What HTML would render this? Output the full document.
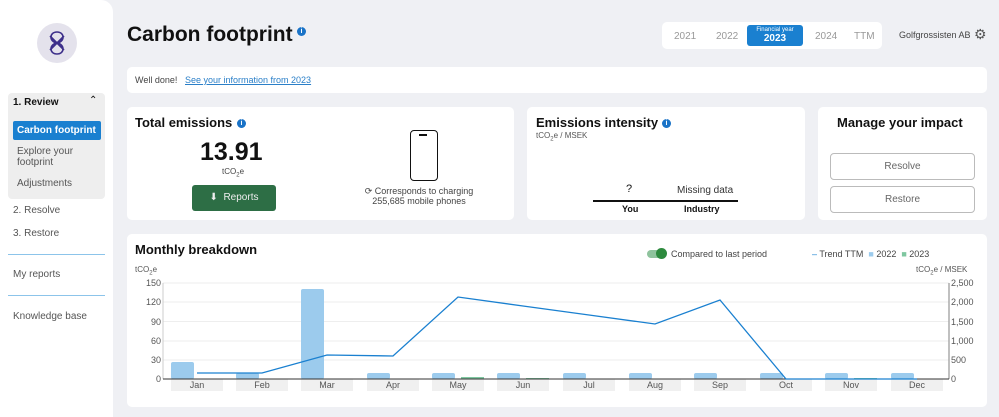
<!DOCTYPE html><html><head><style>
body{margin:0;width:999px;height:417px;background:#eff0f4;font-family:"Liberation Sans",sans-serif;position:relative;overflow:hidden;color:#111}
.a{position:absolute}
.card{position:absolute;background:#fff;border-radius:5px}
.s{font-size:10px;color:#555}
.i{display:inline-block;width:9px;height:9px;border-radius:50%;background:#1a73c7;color:#fff;font-size:7px;text-align:center;line-height:9px;font-weight:bold;vertical-align:top}
.btn{position:absolute;border:1px solid #bbb;border-radius:4px;font-size:10px;color:#666;text-align:center;line-height:25px;background:#fff}
</style></head><body>
<div class="a" style="left:0;top:0;width:113px;height:417px;background:#fff;border-top-right-radius:12px"></div>
<div class="a" style="left:37px;top:23px;width:40px;height:40px;border-radius:50%;background:#e4e2ec"></div>
<svg class="a" style="left:45px;top:30px" width="24" height="26"><path d="M12 2 C4 2 4 12 12 13 C4 14 4 24 12 24 M12 2 C20 2 20 12 12 13 C20 14 20 24 12 24 M5 6 L12 13 L19 6 M5 20 L12 13 L19 20" fill="none" stroke="#3d2f8a" stroke-width="1.6"/></svg>
<div class="a" style="left:8px;top:93px;width:97px;height:106px;background:#eee;border-radius:4px"></div>
<div class="a" style="left:13px;top:97px;font-size:10px;font-weight:bold">1. Review</div>
<div class="a" style="left:89px;top:95px;font-size:10px">⌃</div>
<div class="a" style="left:13px;top:121px;width:88px;height:19px;background:#1a80d0;border-radius:2px;color:#fff;font-size:10px;font-weight:bold;line-height:19px;padding-left:4px;box-sizing:border-box">Carbon footprint</div>
<div class="a s" style="left:17px;top:146px;line-height:11px">Explore your<br>footprint</div>
<div class="a s" style="left:17px;top:178px">Adjustments</div>
<div class="a s" style="left:13px;top:205px">2. Resolve</div>
<div class="a s" style="left:13px;top:228px">3. Restore</div>
<div class="a" style="left:8px;top:254px;width:97px;height:1px;background:#8cc4ea"></div>
<div class="a s" style="left:13px;top:269px">My reports</div>
<div class="a" style="left:8px;top:295px;width:97px;height:1px;background:#8cc4ea"></div>
<div class="a s" style="left:13px;top:311px">Knowledge base</div>

<div class="a" style="left:127px;top:23px;font-size:21px;font-weight:bold">Carbon footprint</div>
<div class="a i" style="left:297px;top:27px">i</div>
<div class="card" style="left:662px;top:22px;width:220px;height:27px"></div>
<div class="a s" style="left:674px;top:31px;color:#999">2021</div>
<div class="a s" style="left:716px;top:31px;color:#999">2022</div>
<div class="a" style="left:747px;top:25px;width:56px;height:21px;background:#1a80d0;border-radius:3px;color:#fff;text-align:center"><div style="font-size:6px;margin-top:2px">Financial year</div><div style="font-size:10px;font-weight:bold">2023</div></div>
<div class="a s" style="left:815px;top:31px;color:#999">2024</div>
<div class="a s" style="left:854px;top:31px;color:#999">TTM</div>
<div class="a s" style="left:899px;top:30px;color:#444;font-size:9px">Golfgrossisten AB</div>
<div class="a" style="left:974px;top:26px;font-size:14px;color:#555">⚙</div>

<div class="card" style="left:127px;top:67px;width:860px;height:26px"></div>
<div class="a" style="left:135px;top:75px;font-size:9px;color:#444">Well done!</div>
<div class="a" style="left:185px;top:75px;font-size:9px;color:#2a7fc8;text-decoration:underline">See your information from 2023</div>

<div class="card" style="left:127px;top:107px;width:387px;height:113px"></div>
<div class="a" style="left:135px;top:115px;font-size:13px;font-weight:bold">Total emissions</div>
<div class="a i" style="left:237px;top:119px">i</div>
<div class="a" style="left:200px;top:138px;font-size:25px;font-weight:bold">13.91</div>
<div class="a" style="left:222px;top:167px;font-size:8px;color:#444">tCO<sub style="font-size:6px">2</sub>e</div>
<div class="a" style="left:192px;top:185px;width:84px;height:26px;background:#2d6e45;border-radius:3px;color:#eee;font-size:10px;text-align:center;line-height:26px">⬇&nbsp; Reports</div>
<div class="a" style="left:410px;top:130px;width:26px;height:49px;border:1.5px solid #111;border-radius:4px"></div>
<div class="a" style="left:419px;top:134px;width:8px;height:2px;background:#111"></div>
<div class="a s" style="left:354px;top:186px;text-align:center;width:130px;line-height:10px;font-size:9px;color:#444">⟳ Corresponds to charging 255,685 mobile phones</div>

<div class="card" style="left:527px;top:107px;width:278px;height:113px"></div>
<div class="a" style="left:536px;top:115px;font-size:13px;font-weight:bold">Emissions intensity</div>
<div class="a i" style="left:662px;top:119px">i</div>
<div class="a" style="left:536px;top:131px;font-size:8px;color:#555">tCO<sub style="font-size:6px">2</sub>e / MSEK</div>
<div class="a" style="left:626px;top:183px;font-size:11px">?</div>
<div class="a s" style="left:677px;top:185px;color:#333">Missing data</div>
<div class="a" style="left:593px;top:200px;width:145px;height:2px;background:#111"></div>
<div class="a" style="left:622px;top:204px;font-size:9px;font-weight:bold">You</div>
<div class="a" style="left:684px;top:204px;font-size:9px;font-weight:bold">Industry</div>

<div class="card" style="left:818px;top:107px;width:169px;height:113px"></div>
<div class="a" style="left:837px;top:115px;font-size:13px;font-weight:bold">Manage your impact</div>
<div class="btn" style="left:830px;top:153px;width:143px">Resolve</div>
<div class="btn" style="left:830px;top:186px;width:143px">Restore</div>

<div class="card" style="left:127px;top:234px;width:860px;height:173px"></div>
<div class="a" style="left:135px;top:242px;font-size:13px;font-weight:bold">Monthly breakdown</div>
<div class="a" style="left:647px;top:250px;width:18px;height:8px;border-radius:4px;background:#8fc39d"></div>
<div class="a" style="left:656px;top:248px;width:11px;height:11px;border-radius:50%;background:#2d8a3e"></div>
<div class="a s" style="left:671px;top:249px;font-size:9px;color:#444">Compared to last period</div>
<div class="a s" style="left:812px;top:249px;font-size:9px;color:#444"><span style="color:#1a80d0">–</span> Trend TTM &nbsp;<span style="color:#9ccbed">■</span> 2022 &nbsp;<span style="color:#7fc7a0">■</span> 2023</div>
<div class="a" style="left:135px;top:265px;font-size:8px;color:#555">tCO<sub style="font-size:6px">2</sub>e</div>
<div class="a" style="left:916px;top:265px;font-size:8px;color:#555">tCO<sub style="font-size:6px">2</sub>e / MSEK</div>
<svg class="a" style="left:0;top:0" width="999" height="417" font-family="Liberation Sans" font-size="9" fill="#555">
<g stroke="#eee" stroke-width="1"><line x1="163" x2="949" y1="283" y2="283"/><line x1="163" x2="949" y1="302" y2="302"/><line x1="163" x2="949" y1="321.5" y2="321.5"/><line x1="163" x2="949" y1="341" y2="341"/><line x1="163" x2="949" y1="360" y2="360"/></g>
<line x1="163" x2="163" y1="283" y2="379" stroke="#ccc"/>
<line x1="949" x2="949" y1="283" y2="379" stroke="#aaa" stroke-width="1.5"/>
<g text-anchor="end"><text x="161" y="286">150</text><text x="161" y="305">120</text><text x="161" y="325">90</text><text x="161" y="344">60</text><text x="161" y="363">30</text><text x="161" y="382">0</text></g>
<g><text x="951" y="286">2,500</text><text x="951" y="305">2,000</text><text x="951" y="325">1,500</text><text x="951" y="344">1,000</text><text x="951" y="363">500</text><text x="951" y="382">0</text></g>
<g fill="#f0f0f0">
<rect x="171" y="379" width="52" height="12"/><rect x="236" y="379" width="52" height="12"/><rect x="301" y="379" width="52" height="12"/><rect x="367" y="379" width="52" height="12"/><rect x="432" y="379" width="52" height="12"/><rect x="497" y="379" width="52" height="12"/><rect x="563" y="379" width="52" height="12"/><rect x="629" y="379" width="52" height="12"/><rect x="694" y="379" width="52" height="12"/><rect x="760" y="379" width="52" height="12"/><rect x="825" y="379" width="52" height="12"/><rect x="891" y="379" width="52" height="12"/></g>
<g fill="#9ccbed">
<rect x="171" y="362" width="23" height="17" rx="2"/><rect x="236" y="373" width="23" height="6" rx="2"/><rect x="301" y="289" width="23" height="90" rx="2"/><rect x="367" y="373" width="23" height="6" rx="2"/><rect x="432" y="373" width="23" height="6" rx="2"/><rect x="497" y="373" width="23" height="6" rx="2"/><rect x="563" y="373" width="23" height="6" rx="2"/><rect x="629" y="373" width="23" height="6" rx="2"/><rect x="694" y="373" width="23" height="6" rx="2"/><rect x="760" y="373" width="23" height="6" rx="2"/><rect x="825" y="373" width="23" height="6" rx="2"/><rect x="891" y="373" width="23" height="6" rx="2"/></g>
<g fill="#7fc7a0"><rect x="461" y="377" width="23" height="2"/><rect x="526" y="378" width="23" height="1"/><rect x="854" y="378" width="23" height="1"/></g>
<line x1="163" x2="949" y1="379" y2="379" stroke="#333"/>
<polyline points="197,373 262,373 327,355 393,356 458,297 523,306 589,315 655,324 720,300 786,379 917,379" fill="none" stroke="#1a80d0" stroke-width="1.3"/>
<g text-anchor="middle"><text x="197" y="388">Jan</text><text x="262" y="388">Feb</text><text x="327" y="388">Mar</text><text x="393" y="388">Apr</text><text x="458" y="388">May</text><text x="523" y="388">Jun</text><text x="589" y="388">Jul</text><text x="655" y="388">Aug</text><text x="720" y="388">Sep</text><text x="786" y="388">Oct</text><text x="851" y="388">Nov</text><text x="917" y="388">Dec</text></g>
</svg>
</body></html>
